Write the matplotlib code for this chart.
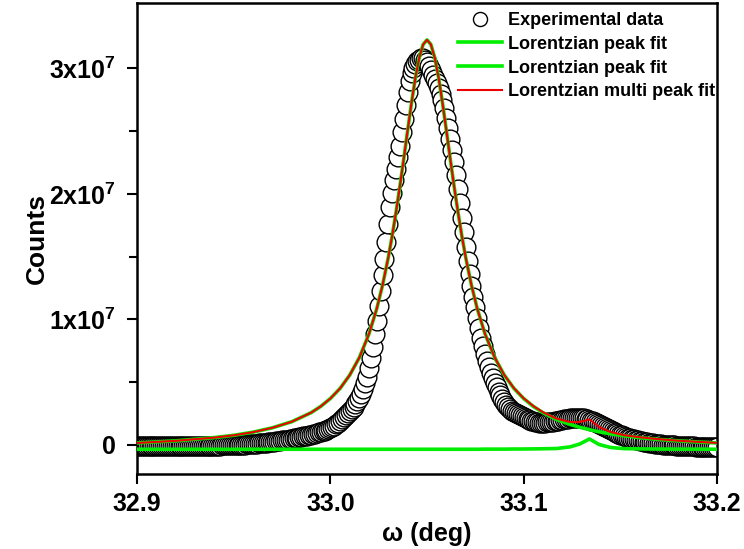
import numpy as np
import matplotlib
matplotlib.use('Agg')
import matplotlib.pyplot as plt

plt.rcParams['font.family'] = ['Liberation Sans', 'DejaVu Sans']
plt.rcParams['font.weight'] = 'bold'
plt.rcParams['mathtext.fontset'] = 'custom'
plt.rcParams['mathtext.bf'] = 'Liberation Sans:bold'
plt.rcParams['mathtext.rm'] = 'Liberation Sans:bold'

# 实验数据 (counts, 单位 1e7), omega 从 32.900 到 33.200, 步长 0.001
counts_1e7 = [
    -0.010, -0.011, -0.010, -0.009, -0.010, -0.011, -0.010, -0.010, -0.009, -0.010,
    -0.010, -0.009, -0.010, -0.011, -0.010, -0.009, -0.009, -0.010, -0.010, -0.009,
    -0.009, -0.010, -0.009, -0.008, -0.009, -0.009, -0.008, -0.009, -0.008, -0.008,
    -0.008, -0.007, -0.008, -0.008, -0.007, -0.007, -0.006, -0.007, -0.006, -0.006,
    -0.006, -0.005, -0.005, -0.006, -0.004, -0.004, -0.003, -0.004, -0.003, -0.002,
    -0.002, -0.001, 0.000, 0.000, 0.001, 0.002, 0.003, 0.004, 0.005, 0.006,
    0.007, 0.009, 0.010, 0.012, 0.013, 0.015, 0.017, 0.019, 0.021, 0.023,
    0.025, 0.027, 0.029, 0.031, 0.033, 0.036, 0.038, 0.041, 0.043, 0.046,
    0.049, 0.052, 0.055, 0.058, 0.061, 0.064, 0.068, 0.071, 0.075, 0.079,
    0.083, 0.087, 0.091, 0.095, 0.100, 0.105, 0.110, 0.115, 0.120, 0.126,
    0.132, 0.140, 0.152, 0.165, 0.178, 0.190, 0.204, 0.220, 0.236, 0.252,
    0.268, 0.285, 0.303, 0.323, 0.347, 0.375, 0.408, 0.446, 0.490, 0.540,
    0.610, 0.690, 0.780, 0.880, 0.990, 1.105, 1.225, 1.350, 1.480, 1.620,
    1.760, 1.895, 2.010, 2.110, 2.200, 2.290, 2.385, 2.490, 2.600, 2.710,
    2.810, 2.895, 2.960, 3.005, 3.035, 3.055, 3.070, 3.080, 3.080, 3.070,
    3.050, 3.020, 2.985, 2.950, 2.915, 2.880, 2.840, 2.795, 2.745, 2.680,
    2.605, 2.525, 2.440, 2.350, 2.255, 2.150, 2.040, 1.925, 1.810, 1.695,
    1.580, 1.465, 1.360, 1.265, 1.180, 1.095, 1.010, 0.930, 0.855, 0.785,
    0.725, 0.670, 0.620, 0.575, 0.535, 0.495, 0.460, 0.425, 0.395, 0.365,
    0.340, 0.318, 0.300, 0.285, 0.272, 0.262, 0.253, 0.245, 0.237, 0.229,
    0.221, 0.213, 0.206, 0.199, 0.193, 0.188, 0.184, 0.181, 0.179, 0.178,
    0.178, 0.179, 0.180, 0.182, 0.184, 0.186, 0.189, 0.192, 0.195, 0.198,
    0.201, 0.204, 0.207, 0.209, 0.211, 0.213, 0.214, 0.215, 0.215, 0.215,
    0.214, 0.212, 0.209, 0.205, 0.200, 0.195, 0.189, 0.183, 0.176, 0.168,
    0.160, 0.152, 0.144, 0.136, 0.128, 0.120, 0.112, 0.104, 0.096, 0.089,
    0.082, 0.076, 0.070, 0.064, 0.058, 0.053, 0.048, 0.044, 0.040, 0.036,
    0.032, 0.029, 0.026, 0.023, 0.020, 0.017, 0.014, 0.012, 0.010, 0.008,
    0.006, 0.004, 0.002, 0.001, 0.000, -0.001, -0.002, -0.003, -0.004, -0.005,
    -0.006, -0.007, -0.008, -0.008, -0.009, -0.010, -0.010, -0.011, -0.011, -0.012,
    -0.012, -0.012, -0.013, -0.013, -0.013, -0.014, -0.014, -0.014, -0.015, -0.015, -0.015,
]
omega = np.linspace(32.9, 33.2, len(counts_1e7))

# 拟合曲线
fit_x = [32.900, 32.920, 32.940, 32.950, 32.960, 32.970, 32.980, 32.990, 32.995, 33.000,
         33.005, 33.010, 33.015, 33.020, 33.024, 33.027, 33.030, 33.032, 33.034, 33.036,
         33.038, 33.040, 33.042, 33.044, 33.046, 33.048, 33.050, 33.052, 33.054, 33.056,
         33.058, 33.060, 33.062, 33.064, 33.066, 33.068, 33.070, 33.073, 33.076, 33.080,
         33.085, 33.090, 33.095, 33.100, 33.105, 33.110, 33.117, 33.124, 33.129, 33.134,
         33.139, 33.145, 33.152, 33.160, 33.170, 33.180, 33.190, 33.200]

fit_peak1 = [0.016, 0.033, 0.059, 0.077, 0.102, 0.137, 0.185, 0.257, 0.307, 0.370,
             0.450, 0.556, 0.696, 0.885, 1.085, 1.272, 1.495, 1.667, 1.857, 2.063,
             2.282, 2.507, 2.726, 2.925, 3.085, 3.190, 3.226, 3.190, 3.085, 2.925,
             2.726, 2.507, 2.282, 2.063, 1.857, 1.667, 1.495, 1.272, 1.085, 0.885,
             0.696, 0.556, 0.450, 0.370, 0.307, 0.257, 0.204, 0.164, 0.141, 0.122,
             0.105, 0.089, 0.073, 0.059, 0.044, 0.033, 0.024, 0.016]

fit_peak2 = [-0.034, -0.034, -0.034, -0.034, -0.034, -0.034, -0.034, -0.034, -0.034, -0.034,
             -0.034, -0.034, -0.034, -0.034, -0.034, -0.034, -0.034, -0.034, -0.034, -0.034,
             -0.034, -0.034, -0.034, -0.034, -0.034, -0.034, -0.034, -0.034, -0.034, -0.034,
             -0.034, -0.034, -0.034, -0.034, -0.034, -0.034, -0.034, -0.034, -0.034, -0.033,
             -0.033, -0.033, -0.032, -0.032, -0.031, -0.030, -0.028, -0.015, 0.008, 0.048,
             0.004, -0.020, -0.029, -0.031, -0.032, -0.033, -0.033, -0.034]

fit_multi = [0.016, 0.033, 0.059, 0.077, 0.102, 0.137, 0.185, 0.257, 0.307, 0.370,
             0.450, 0.556, 0.696, 0.885, 1.085, 1.272, 1.495, 1.667, 1.857, 2.063,
             2.282, 2.507, 2.726, 2.925, 3.085, 3.190, 3.226, 3.190, 3.085, 2.925,
             2.726, 2.507, 2.282, 2.063, 1.857, 1.667, 1.495, 1.272, 1.085, 0.885,
             0.697, 0.557, 0.452, 0.372, 0.310, 0.261, 0.210, 0.183, 0.183, 0.204,
             0.143, 0.103, 0.078, 0.062, 0.046, 0.034, 0.025, 0.017]

yticks = [0, 1e7, 2e7, 3e7]
ytick_labels = ['0', r'$\mathbf{1x10^{7}}$', r'$\mathbf{2x10^{7}}$', r'$\mathbf{3x10^{7}}$']
xticks = [32.9, 33.0, 33.1, 33.2]

scale = 1e7
fig = plt.figure(figsize=(7.44, 5.49), dpi=100)
ax = fig.add_axes([137/744, 1-474/549, 580/744, 471/549])

ax.plot(omega, np.array(counts_1e7) * scale, 'o', ms=13.5, mfc='white', mec='black',
        mew=1.0, label='Experimental data', zorder=2)
ax.plot(fit_x, np.array(fit_peak1) * scale, color='#00ee00', lw=2.6,
        label='Lorentzian peak fit', zorder=3)
ax.plot(fit_x, np.array(fit_peak2) * scale, color='#00ee00', lw=2.6,
        label='Lorentzian peak fit', zorder=3)
ax.plot(fit_x, np.array(fit_multi) * scale, color='#ee0000', lw=1.5,
        label='Lorentzian multi peak fit', zorder=4)

ax.set_xlim(32.9, 33.2)
ax.set_ylim(-0.231e7, 3.52e7)
ax.set_xticks(xticks)
ax.set_xticklabels([f'{v:.1f}' for v in xticks])
ax.set_yticks(yticks)
ax.set_yticklabels(ytick_labels)
ax.set_yticks([0.5e7, 1.5e7, 2.5e7], minor=True)

ax.tick_params(axis='both', which='major', direction='out', length=7, width=1.5,
               labelsize=18, top=False, right=False)
ax.tick_params(axis='y', which='minor', direction='out', length=6, width=1.5)
ax.tick_params(axis='y', pad=8)
ax.tick_params(axis='x', pad=6)
for s in ax.spines.values():
    s.set_linewidth(1.8)

ax.set_xlabel('ω (deg)', fontsize=18, fontweight='bold', labelpad=4)
ax.set_ylabel('Counts', fontsize=19, fontweight='bold', labelpad=0)

leg = ax.legend(loc='upper right', bbox_to_anchor=(1.0, 0.985), frameon=False,
                fontsize=13, handlelength=2.4, handletextpad=0.35, labelspacing=0.38,
                markerscale=0.75, borderaxespad=0.0, borderpad=0.1)

fig.savefig('out.png', dpi=100)
